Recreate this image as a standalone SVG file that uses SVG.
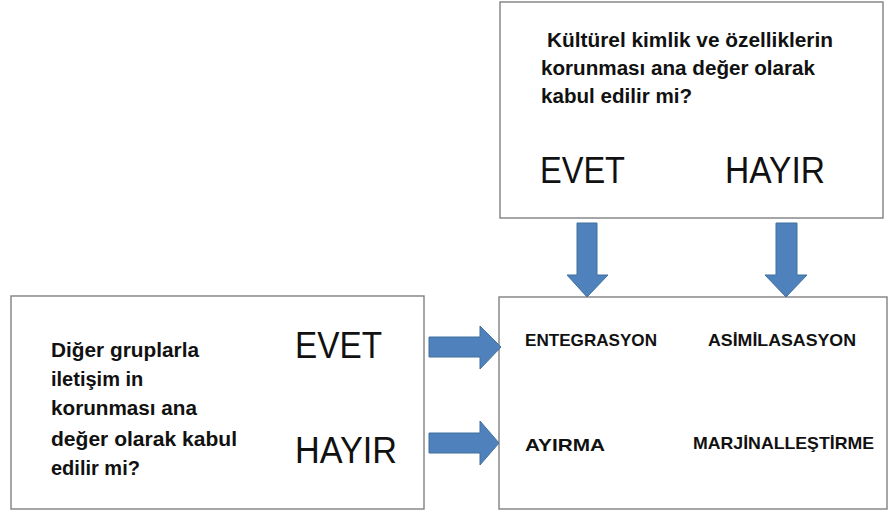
<svg xmlns="http://www.w3.org/2000/svg" width="888" height="511" viewBox="0 0 888 511">
<style>
.box{fill:#ffffff;stroke:#808080;stroke-width:1.4}
.q{font-family:"Liberation Sans",Arial,sans-serif;font-weight:bold;font-size:20px;fill:#111}
.big{font-family:"Liberation Sans",Arial,sans-serif;font-size:36px;fill:#111}
.lbl{font-family:"Liberation Sans",Arial,sans-serif;font-weight:bold;font-size:17px;fill:#111}
.arr{fill:#4f81bd;stroke:#41719c;stroke-width:1}
</style>
<rect width="888" height="511" fill="#ffffff"/>
<g id="top-question">
<rect class="box" x="500" y="2" width="383" height="216"/>
<text class="q" x="547" y="47" textLength="286" lengthAdjust="spacingAndGlyphs">Kültürel kimlik ve özelliklerin</text>
<text class="q" x="541" y="75" textLength="274" lengthAdjust="spacingAndGlyphs">korunması ana değer olarak</text>
<text class="q" x="541" y="103" textLength="151" lengthAdjust="spacingAndGlyphs">kabul edilir mi?</text>
<text class="big" x="540" y="183" textLength="85" lengthAdjust="spacingAndGlyphs">EVET</text>
<text class="big" x="725" y="183" textLength="100" lengthAdjust="spacingAndGlyphs">HAYIR</text>
</g>
<g id="left-question">
<rect class="box" x="11" y="296" width="413" height="213"/>
<text class="q" x="51" y="357" textLength="148" lengthAdjust="spacingAndGlyphs">Diğer gruplarla</text>
<text class="q" x="51" y="386">iletişim in</text>
<text class="q" x="51" y="415" textLength="146" lengthAdjust="spacingAndGlyphs">korunması ana</text>
<text class="q" x="51" y="446" textLength="186" lengthAdjust="spacingAndGlyphs">değer olarak kabul</text>
<text class="q" x="51" y="475">edilir mi?</text>
<text class="big" x="295" y="358" textLength="87" lengthAdjust="spacingAndGlyphs">EVET</text>
<text class="big" x="295" y="463" textLength="102" lengthAdjust="spacingAndGlyphs">HAYIR</text>
</g>
<g id="outcomes">
<rect class="box" x="499" y="297" width="388" height="212"/>
<text class="lbl" x="525" y="346" textLength="132" lengthAdjust="spacingAndGlyphs">ENTEGRASYON</text>
<text class="lbl" x="708" y="346" textLength="148" lengthAdjust="spacingAndGlyphs">ASİMİLASASYON</text>
<text class="lbl" x="525" y="451" textLength="80" lengthAdjust="spacingAndGlyphs">AYIRMA</text>
<text class="lbl" x="693" y="449" textLength="181" lengthAdjust="spacingAndGlyphs">MARJİNALLEŞTİRME</text>
</g>
<g id="connectors">
<polygon class="arr" points="577,223 597,223 597,275 608,275 587,297 567,275 577,275"/>
<polygon class="arr" points="776,223 797,223 797,275 807,275 786,297 765,275 776,275"/>
<polygon class="arr" points="429,337 480,337 480,326 501,347 480,369 480,357 429,357"/>
<polygon class="arr" points="429,433 480,433 480,421 499,443 480,465 480,453 429,453"/>
</g>
</svg>
